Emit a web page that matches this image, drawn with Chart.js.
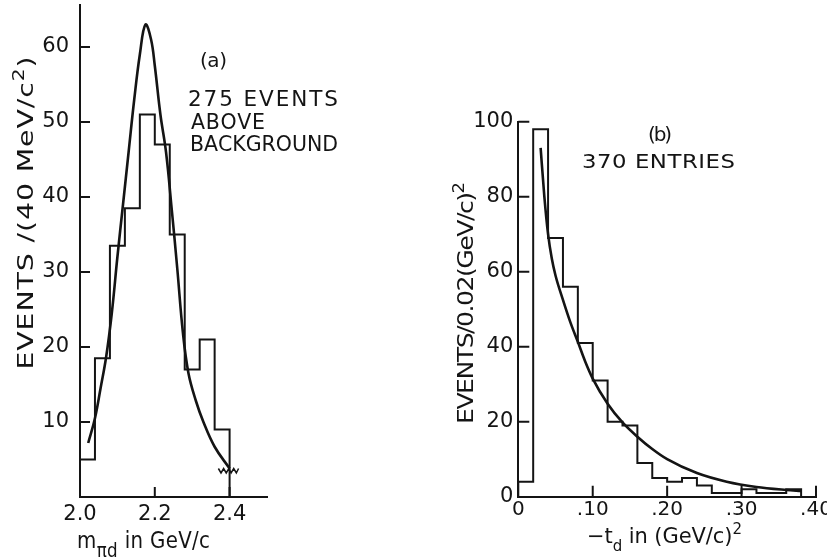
<!doctype html>
<html lang="en">
<head>
<meta charset="UTF-8">
<title>pi d mass and t_d distributions</title>
<script src="https://cdn.jsdelivr.net/npm/chart.js@4.4.1/dist/chart.umd.min.js"></script>
<style>
 html, body { margin: 0; padding: 0; background: #fff; }
 #wrap { position: relative; width: 827px; height: 560px; }
 canvas { position: absolute; left: 0; top: 0; }
</style>
</head>
<body>
<div id="wrap">
 <canvas id="left" width="827" height="560"></canvas>
 <canvas id="right" width="827" height="560"></canvas>
</div>
<script>
// (a) m_pi-d, 40 MeV bins
var massEdges = [2.00, 2.04, 2.08, 2.12, 2.16, 2.20, 2.24, 2.28, 2.32, 2.36, 2.40];
var massCounts = [5, 18.5, 33.5, 38.5, 51, 47, 35, 17, 21, 9];
var massFitX = [2.022, 2.04, 2.055, 2.07, 2.085, 2.10, 2.115, 2.13, 2.145, 2.16, 2.175,
                2.19, 2.20, 2.215, 2.23, 2.245, 2.26, 2.275, 2.29, 2.31, 2.33, 2.36, 2.40];
var massFitY = [7.2, 10.5, 14.5, 18.7, 24.5, 32, 39, 46, 53, 59, 63,
                61, 57.5, 51, 46, 38.5, 30.5, 22, 16.5, 12.8, 10, 6.7, 3.8];
// wavy cut mark at the end of the fit
var cutX = [2.370, 2.377, 2.384, 2.391, 2.398, 2.404, 2.411, 2.418, 2.424];
var cutY = [3.8, 3.2, 3.8, 3.2, 3.8, 3.2, 3.8, 3.2, 3.8];
var massTicksX = [2.0, 2.2, 2.4];
var massTicksY = [10, 20, 30, 40, 50, 60];

// (b) -t_d, 0.02 bins
var tEdges = [0, 0.02, 0.04, 0.06, 0.08, 0.10, 0.12, 0.14, 0.16, 0.18, 0.20,
              0.22, 0.24, 0.26, 0.28, 0.30, 0.32, 0.34, 0.36, 0.38];
var tCounts = [4, 98, 69, 56, 41, 31, 20, 19, 9, 5, 4, 5, 3, 1, 1, 2, 1, 1, 2];
var tFitX = [0.030, 0.035, 0.040, 0.045, 0.050, 0.060, 0.070, 0.080, 0.090, 0.10, 0.12,
             0.14, 0.16, 0.18, 0.20, 0.24, 0.28, 0.32, 0.36, 0.38];
var tFitY = [93, 80, 70, 63.5, 59, 52.5, 46.5, 41.3, 36, 31.5, 24.8,
             19.8, 16, 12.7, 10, 6.3, 4, 2.6, 1.8, 1.5];
var tTicksX = [0, 0.1, 0.2, 0.3, 0.4];
var tTicksY = [0, 20, 40, 60, 80, 100];

var INK = '#141414';
var FONT = '"DejaVu Sans", sans-serif';
Chart.defaults.font.family = FONT;
Chart.defaults.color = INK;

function stepPoints(edges, counts) {
  var pts = [{x: edges[0], y: 0}];
  counts.forEach(function (c, i) { pts.push({x: edges[i], y: c}); });
  pts.push({x: edges[counts.length], y: 0});
  return pts;
}
function zip(xs, ys) {
  return xs.map(function (x, i) { return {x: x, y: ys[i]}; });
}

// wide lettering: glyphs stretched, then spaced out to a given width
function label(ctx, parts, x, y, size, width, opts) {
  opts = opts || {};
  var stretch = opts.stretch || 1;
  var items = [];
  parts.forEach(function (p) {
    var kind = p[1] || '';
    var fs = kind ? Math.round(size * (p[2] || 0.7)) : size;
    var dy = kind === 'sub' ? size * 0.38 : kind === 'sup' ? -size * 0.45 : 0;
    Array.from(p[0]).forEach(function (ch) { items.push({ch: ch, fs: fs, dy: dy}); });
  });
  ctx.save();
  ctx.fillStyle = INK;
  ctx.textBaseline = 'alphabetic';
  ctx.textAlign = 'left';
  var natural = 0;
  items.forEach(function (it) {
    ctx.font = it.fs + 'px ' + FONT;
    it.w = ctx.measureText(it.ch).width * stretch;
    natural += it.w;
  });
  var gap = items.length > 1 ? (width - natural) / (items.length - 1) : 0;
  ctx.translate(x, y);
  if (opts.rotate) ctx.rotate(opts.rotate);
  var cx = opts.center ? -width / 2 : 0;
  items.forEach(function (it) {
    ctx.save();
    ctx.translate(cx, it.dy);
    ctx.scale(stretch, 1);
    ctx.font = it.fs + 'px ' + FONT;
    ctx.fillText(it.ch, 0, 0);
    ctx.restore();
    cx += it.w + gap;
  });
  ctx.restore();
}

function innerTicks(chart, xs, ys, len) {
  var ctx = chart.ctx, a = chart.chartArea, sx = chart.scales.x, sy = chart.scales.y;
  ctx.save();
  ctx.strokeStyle = INK;
  ctx.lineWidth = 2;
  ctx.beginPath();
  xs.forEach(function (v) {
    if (v === sx.min) return;
    var px = sx.getPixelForValue(v);
    ctx.moveTo(px, a.bottom);
    ctx.lineTo(px, a.bottom - len);
  });
  ys.forEach(function (v) {
    if (v === sy.min) return;
    var py = sy.getPixelForValue(v);
    ctx.moveTo(a.left, py);
    ctx.lineTo(a.left + len, py);
  });
  ctx.stroke();
  ctx.restore();
}

function axes(o) {
  return {
    x: {
      type: 'linear', min: o.xmin, max: o.xmax,
      grid: {display: false, drawTicks: false},
      border: {color: INK, width: 2},
      ticks: {color: INK, font: {size: o.xfont}, padding: o.xpad, maxRotation: 0, autoSkip: false, callback: o.xfmt},
      afterBuildTicks: function (s) { s.ticks = o.xticks.map(function (v) { return {value: v}; }); },
      afterFit: function (s) { s.height = o.xh; s.paddingLeft = 0; s.paddingRight = 0; }
    },
    y: {
      type: 'linear', min: 0, max: o.ymax,
      grid: {display: false, drawTicks: false},
      border: {color: INK, width: 2},
      ticks: {color: INK, font: {size: 21}, padding: o.ypad, autoSkip: false},
      afterBuildTicks: function (s) { s.ticks = o.yticks.map(function (v) { return {value: v}; }); },
      afterFit: function (s) { s.width = o.yw; s.paddingTop = 0; s.paddingBottom = 0; }
    }
  };
}

var common = {
  animation: false, responsive: false, devicePixelRatio: 1,
  plugins: {legend: {display: false}, tooltip: {enabled: false}},
  elements: {point: {radius: 0}}
};

new Chart(document.getElementById('left'), {
  type: 'line',
  data: {datasets: [
    {data: stepPoints(massEdges, massCounts), stepped: true, borderColor: INK, borderWidth: 2},
    {data: zip(massFitX, massFitY), tension: 0.4, borderColor: INK, borderWidth: 2.6},
    {data: zip(cutX, cutY), borderColor: INK, borderWidth: 1.5}
  ]},
  options: Object.assign({}, common, {
    layout: {padding: {top: 5, right: 560, left: 0, bottom: 0}},
    scales: axes({xmin: 2.0, xmax: 2.5, ymax: 65.6, xticks: massTicksX, yticks: massTicksY,
      xfont: 21, xpad: 5, ypad: 11, xh: 63, yw: 80,
      xfmt: function (v) { return v.toFixed(1); }})
  }),
  plugins: [{id: 'marksA', afterDraw: function (c) {
    var ctx = c.ctx;
    innerTicks(c, massTicksX, massTicksY, 10);
    label(ctx, [['EVENTS /(40 MeV/c'], ['2', 'sup'], [')']], 33, 213, 21, 313, {rotate: -Math.PI / 2, center: true, stretch: 1.35});
    label(ctx, [['m'], ['\u03c0d', 'sub', 0.85], [' in GeV/c']], 77, 548, 22.5, 133, {stretch: 0.88});
    label(ctx, [['(a)']], 200, 67, 20, 27);
    label(ctx, [['275 EVENTS']], 188, 106, 20.5, 150, {stretch: 1.05});
    label(ctx, [['ABOVE']], 191, 129, 20.5, 74);
    label(ctx, [['BACKGROUND']], 190, 151, 20.5, 148);
  }}]
});

new Chart(document.getElementById('right'), {
  type: 'line',
  data: {datasets: [
    {data: stepPoints(tEdges, tCounts), stepped: true, borderColor: INK, borderWidth: 2},
    {data: zip(tFitX, tFitY), cubicInterpolationMode: 'monotone', borderColor: INK, borderWidth: 2.6}
  ]},
  options: Object.assign({}, common, {
    layout: {padding: {top: 121.7, right: 11, left: 0, bottom: 0}},
    scales: axes({xmin: 0, xmax: 0.4, ymax: 100, xticks: tTicksX, yticks: tTicksY,
      xfont: 20, xpad: 1, ypad: 5, xh: 63.3, yw: 518.3,
      xfmt: function (v) { return v === 0 ? '0' : v.toFixed(2).replace('0.', '.'); }})
  }),
  plugins: [{id: 'marksB', afterDraw: function (c) {
    var ctx = c.ctx;
    innerTicks(c, tTicksX, tTicksY, 11);
    label(ctx, [['EVENTS/0.02(GeV/c)'], ['2', 'sup']], 473, 303, 21, 242, {rotate: -Math.PI / 2, center: true, stretch: 1.2});
    label(ctx, [['\u2212t'], ['d', 'sub'], [' in (GeV/c)'], ['2', 'sup']], 587, 543, 21, 155);
    label(ctx, [['(b)']], 648, 141, 20, 24);
    label(ctx, [['370 ENTRIES']], 582, 168, 19, 153, {stretch: 1.2});
  }}]
});
</script>
</body>
</html>
